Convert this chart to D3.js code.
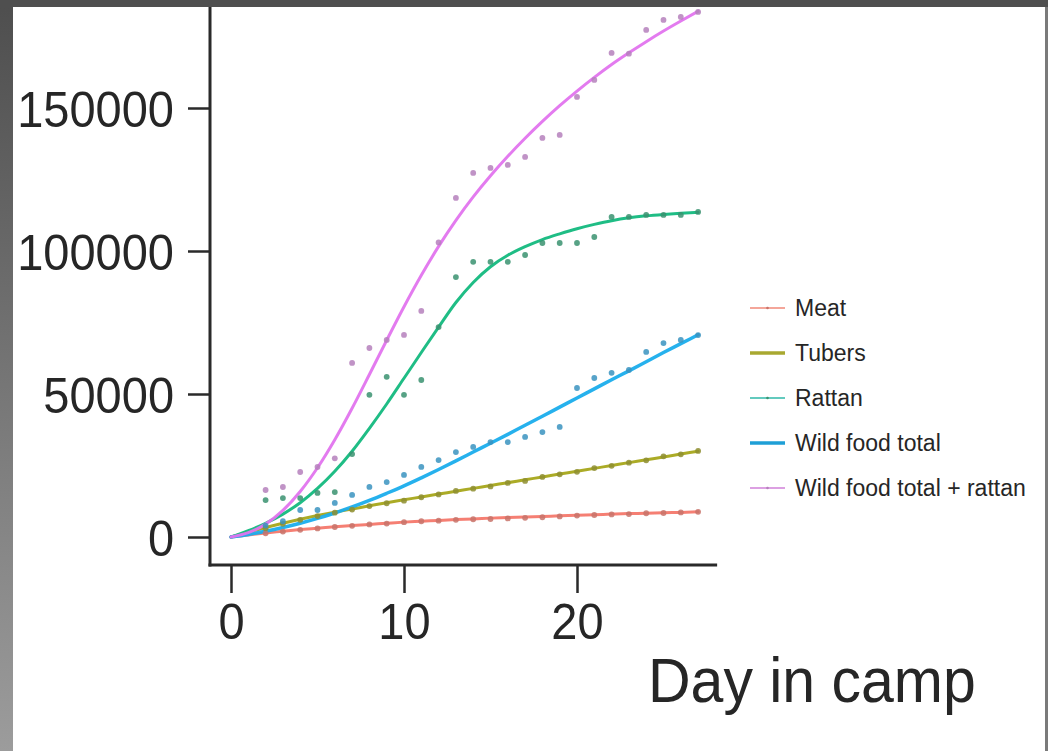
<!DOCTYPE html>
<html>
<head>
<meta charset="utf-8">
<script src="https://cdn.jsdelivr.net/npm/d3@7"></script>
<style>
html,body{margin:0;padding:0;background:#fff;}
svg{display:block;}
text{font-family:"Liberation Sans",Arial,sans-serif;fill:#262626;}
</style>
</head>
<body>
<svg id="chart" width="1048" height="751"></svg>
<script>
// ---- data ----
const seriesNames = ["Meat", "Tubers", "Rattan", "Wild food total", "Wild food total + rattan"];
const fitDays = [0,1,2,3,4,5,6,7,8,9,10,11,12,13,14,15,16,17,18,19,20,21,22,23,24,25,26,27];
const meatFit = [0,700,1400,2000,2600,3100,3600,4000,4400,4800,5200,5500,5800,6100,6300,6600,6800,7000,7200,7400,7600,7800,8000,8200,8300,8500,8600,8800];
const tubersFit = [0,1700,3300,4800,6200,7500,8700,9800,10900,12000,13000,14000,15000,16000,17000,18000,19000,20000,21000,22000,23000,24000,25000,26000,27000,28000,29000,30000];
const rattanFit = [0,2200,4800,8000,12000,17000,23000,30000,38000,46500,55500,64500,73400,82000,89000,94500,98500,101500,104000,106000,107800,109300,110600,111600,112300,112800,113200,113500];
const wildFit = [0,900,2000,3300,4800,6500,8400,10500,12800,15300,17900,20700,23600,26600,29700,32800,35900,39100,42200,45400,48600,51800,55000,58100,61300,64500,67600,70700];
const wildRattanFit = [0,1500,4500,9300,15900,24200,34000,45000,56800,68800,80500,91500,101600,110700,118900,126300,133100,139400,145300,150800,155900,160700,165200,169300,173200,176900,180400,183800];

const pointDays = [2,3,4,5,6,7,8,9,10,11,12,13,14,15,16,17,18,19,20,21,22,23,24,25,26,27];
const meatPts = [1300,1900,2500,3000,3500,3900,4400,4700,5200,5500,5700,6000,6200,6300,6500,6700,6900,7200,7500,7700,7900,8000,8300,8400,8600,8800];
const tubersPts = [3100,4600,6000,7300,8500,9600,10800,11800,12700,13900,14900,16100,16900,17700,18900,19600,21000,21900,22800,24100,24900,26000,26800,28200,28900,30100];
const rattanPts = [12900,13600,13600,15400,15700,29000,49700,56000,49700,54900,73400,90900,96200,96200,96200,98600,102800,102800,102800,104900,111900,111900,112600,112600,112600,113650];
const wildPts = [4000,5500,9440,9440,11900,14700,17500,19200,21700,24500,26900,29700,31500,33200,33200,35000,36700,38500,52100,55600,57400,58400,64700,67800,68900,70600];
const wildRattanPts = [16440,17490,22730,24480,27500,60850,66090,68890,70640,79030,103000,118550,127300,129040,130090,132890,139530,140580,153870,159820,169250,169000,177300,180800,181840,183600];

const xTicks = [0, 10, 20];
const yTicks = [0, 50000, 100000, 150000];
const xLabel = "Day in camp";

// ---- styles ----
const lineColors = ["#F4786C", "#A6A61A", "#13B97E", "#1AADEC", "#E274EE"];
const pointColors = ["#C8736A", "#8E8E30", "#3A9270", "#3A93C0", "#B580BC"];
const legendColors = ["#F08878", "#A8A830", "#2FB8A8", "#1E9FD6", "#D080D8"];
const legendWidths = [1.5, 3.5, 1.5, 3.5, 1.5];

const fits = [meatFit, tubersFit, rattanFit, wildFit, wildRattanFit];
const pts = [meatPts, tubersPts, rattanPts, wildPts, wildRattanPts];

const svg = d3.select("#chart");

// frame background
const defs = svg.append("defs");
const grad = defs.append("linearGradient").attr("id", "leftgrad").attr("x1", 0).attr("y1", 0).attr("x2", 0).attr("y2", 1);
grad.append("stop").attr("offset", "0%").attr("stop-color", "#4e4e4e");
grad.append("stop").attr("offset", "100%").attr("stop-color", "#9c9c9c");
svg.append("rect").attr("x", 0).attr("y", 0).attr("width", 1048).attr("height", 751).attr("fill", "#fff");
svg.append("rect").attr("x", 0).attr("y", 0).attr("width", 13).attr("height", 751).attr("fill", "url(#leftgrad)");
svg.append("rect").attr("x", 0).attr("y", 0).attr("width", 1048).attr("height", 7).attr("fill", "#4f4f4f");
svg.append("rect").attr("x", 1045).attr("y", 7).attr("width", 3).attr("height", 744).attr("fill", "#7a7a7a");

// scales
const x = d3.scaleLinear().domain([0, 20]).range([231, 577]);
const y = d3.scaleLinear().domain([0, 150000]).range([537, 108]);

// axes
const stretch = "scale(1,1.08)";
const yAxis = svg.append("g").attr("transform", "translate(210,0)")
  .call(d3.axisLeft(y).tickValues(yTicks).tickSize(22).tickPadding(14).tickFormat(d3.format("d")));
yAxis.select(".domain").remove();
yAxis.selectAll(".tick line").attr("stroke", "#2a2a2a").attr("stroke-width", 2.5);
yAxis.selectAll(".tick text").attr("font-size", 47).attr("fill", "#262626")
  .attr("dy", null).attr("dominant-baseline", "central")
  .attr("transform", "translate(0,1) " + stretch);

const xAxis = svg.append("g").attr("transform", "translate(0,565)")
  .call(d3.axisBottom(x).tickValues(xTicks).tickSize(28).tickPadding(8).tickFormat(d3.format("d")));
xAxis.select(".domain").remove();
xAxis.selectAll(".tick line").attr("stroke", "#2a2a2a").attr("stroke-width", 2.5);
xAxis.selectAll(".tick text").attr("font-size", 47).attr("fill", "#262626")
  .attr("dy", "0.71em").attr("transform", "translate(0,-1) " + stretch);

// axis lines
svg.append("line").attr("x1", 210).attr("x2", 210).attr("y1", 7).attr("y2", 566.5)
  .attr("stroke", "#2a2a2a").attr("stroke-width", 3);
svg.append("line").attr("x1", 208.5).attr("x2", x(28.1)).attr("y1", 565).attr("y2", 565)
  .attr("stroke", "#2a2a2a").attr("stroke-width", 3);

svg.append("text").attr("x", 648).attr("font-size", 59)
  .attr("transform", "translate(0,702) scale(1,1.07) translate(0,-702)")
  .attr("y", 702).text(xLabel);

// plotting
const plot = svg.append("g");
const line = d3.line().x((d, i) => x(fitDays[i])).y(d => y(d)).curve(d3.curveMonotoneX);

fits.forEach((f, s) => {
  plot.append("path").datum(f).attr("d", line).attr("fill", "none")
    .attr("stroke", lineColors[s]).attr("stroke-width", s === 3 ? 3.5 : 3).attr("stroke-linecap", "round")
    .attr("opacity", 0.95);
});

pts.forEach((p, s) => {
  plot.append("g").selectAll("circle").data(p).join("circle")
    .attr("cx", (d, i) => x(pointDays[i])).attr("cy", d => y(d)).attr("r", 2.9)
    .attr("fill", pointColors[s]).attr("opacity", 0.85);
});

// legend
const legend = svg.append("g");
seriesNames.forEach((name, i) => {
  const cy = 308 + i * 45;
  legend.append("line").attr("x1", 750).attr("x2", 785).attr("y1", cy).attr("y2", cy)
    .attr("stroke", legendColors[i]).attr("stroke-width", legendWidths[i]);
  if (legendWidths[i] < 2) {
    legend.append("circle").attr("cx", 767.5).attr("cy", cy).attr("r", 1.3).attr("fill", pointColors[i]);
  }
  legend.append("text").attr("x", 795).attr("y", cy).attr("dominant-baseline", "central")
    .attr("font-size", 23).text(name);
});
</script>
</body>
</html>
